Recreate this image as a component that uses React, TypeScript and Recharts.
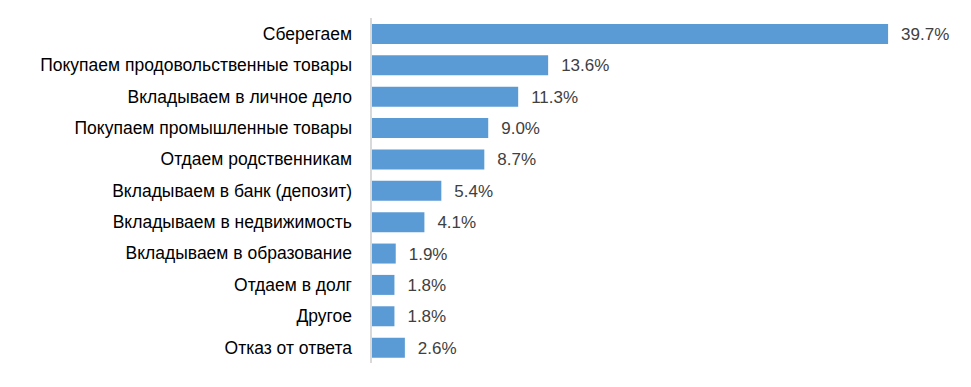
import { BarChart, Bar, XAxis, YAxis, LabelList } from 'recharts'

const categories = [
  'Сберегаем',
  'Покупаем продовольственные товары',
  'Вкладываем в личное дело',
  'Покупаем промышленные товары',
  'Отдаем родственникам',
  'Вкладываем в банк (депозит)',
  'Вкладываем в недвижимость',
  'Вкладываем в образование',
  'Отдаем в долг',
  'Другое',
  'Отказ от ответа',
]
const shares = [39.7, 13.6, 11.3, 9.0, 8.7, 5.4, 4.1, 1.9, 1.8, 1.8, 2.6]

const data = categories.map((name, i) => ({ name, value: shares[i] }))

const BAR_COLOR = '#5b9bd5'
const FONT = '"Liberation Sans", Arial, sans-serif'

export default function App() {
  return (
    <div style={{ width: 955, height: 371, fontFamily: FONT }}>
      <BarChart
        width={955}
        height={371}
        data={data}
        layout="vertical"
        margin={{ top: 10, right: 71, left: 0, bottom: 16 }}
      >
        <XAxis type="number" domain={[0, 40]} hide />
        <YAxis
          type="category"
          dataKey="name"
          width={363}
          tickLine={false}
          tickSize={0}
          tickMargin={19}
          axisLine={{ stroke: '#d9d9d9', strokeWidth: 2 }}
          tick={{ fontSize: 17.5, fill: '#000', fontFamily: FONT }}
          interval={0}
        />
        <Bar dataKey="value" fill={BAR_COLOR} barSize={20} isAnimationActive={false}>
          <LabelList
            dataKey="value"
            position="right"
            offset={13}
            formatter={(v: number) => `${v.toFixed(1)}%`}
            style={{ fontSize: 17, fill: '#404040', fontFamily: FONT }}
          />
        </Bar>
      </BarChart>
    </div>
  )
}
